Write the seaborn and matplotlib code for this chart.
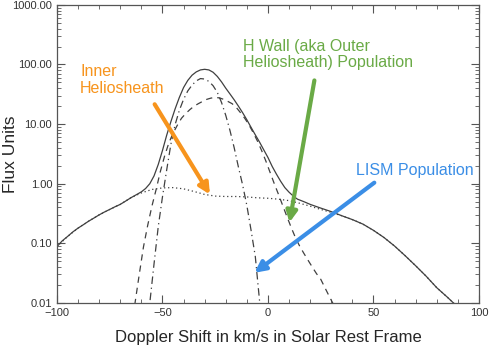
import numpy as np
import pandas as pd
import seaborn as sns
import matplotlib
matplotlib.use("Agg")
import matplotlib.pyplot as plt
from matplotlib.ticker import FormatStrFormatter, MultipleLocator, LogLocator

# total observed profile (solid)
total_v = [-100, -97.5, -95, -92.5, -90, -87.5, -85, -82.5, -80, -77.5, -75, -72.5,
           -70, -67.5, -65, -62.5, -60, -58, -56, -54, -52, -50, -48, -46, -44, -42,
           -40, -38, -36, -34, -32, -30, -28, -26, -24, -22, -20, -18, -16, -14, -12,
           -10, -8, -6, -4, -2, 0, 2, 4, 6, 8, 10, 12, 14, 17, 20, 25, 30, 35, 40,
           45, 50, 55, 60, 65, 70, 75, 80, 85, 90]
total_flux = [0.088, 0.11, 0.13, 0.155, 0.18, 0.205, 0.235, 0.265, 0.30, 0.335, 0.37, 0.41,
              0.45, 0.51, 0.58, 0.65, 0.73, 0.83, 1.0, 1.35, 2.1, 3.6, 6.5, 11, 18, 28,
              41, 54, 66, 75, 81, 83, 81, 74, 63, 51, 40, 32, 25.5, 20, 15.5,
              11.8, 8.8, 6.6, 5.0, 3.7, 2.75, 1.95, 1.45, 1.1, 0.86, 0.72, 0.62, 0.55, 0.5,
              0.45, 0.39, 0.34, 0.29, 0.25, 0.21, 0.165, 0.125, 0.09, 0.062, 0.042, 0.028,
              0.018, 0.0125, 0.0085]

# inner heliosheath (dotted)
ihs_v = [-100, -95, -90, -85, -80, -75, -70, -65, -60, -55, -50, -45, -40, -35, -30,
         -25, -20, -15, -10, -5, 0, 5, 10, 15, 20, 25, 30, 35, 40, 45, 50, 55, 60,
         65, 70, 75, 80, 85, 90]
ihs_flux = [0.088, 0.13, 0.18, 0.235, 0.30, 0.37, 0.45, 0.58, 0.70, 0.80, 0.85, 0.86,
            0.82, 0.74, 0.66, 0.62, 0.61, 0.61, 0.60, 0.58, 0.57, 0.55, 0.52, 0.47,
            0.42, 0.37, 0.33, 0.29, 0.25, 0.21, 0.165, 0.125, 0.09, 0.062, 0.042,
            0.028, 0.018, 0.0125, 0.0085]

# H wall / outer heliosheath (dashed)
hwall_v = [-64, -63, -61, -59, -57, -55, -53, -51, -49, -47, -45, -43, -41, -39, -37,
           -35, -33, -31, -29, -27, -25, -23, -21, -19, -17, -15, -13, -11, -9, -7,
           -5, -3, -1, 1, 3, 5, 7, 9, 11, 13, 15, 17, 19, 21, 23, 25, 27, 29, 31, 33]
hwall_flux = [0.006, 0.01, 0.03, 0.087, 0.2, 0.42, 0.8, 1.6, 2.9, 4.8, 7, 9.5, 12.5, 15,
              17.5, 20, 22, 24, 26, 27.3, 28, 27.5, 26, 24, 22, 19, 15.5, 12.5, 9.7, 7.2,
              5.2, 3.6, 2.4, 1.55, 1.0, 0.66, 0.43, 0.28, 0.185, 0.125, 0.09, 0.068,
              0.052, 0.04, 0.031, 0.025, 0.018, 0.013, 0.0095, 0.007]

# LISM (dash-dot)
lism_v = [-57, -56, -54, -52, -50, -48, -46, -44, -42, -40, -38, -36, -34, -32, -30,
          -28, -26, -24, -22, -20, -18, -16, -14, -12, -10, -8, -6, -4, -3]
lism_flux = [0.006, 0.01, 0.045, 0.19, 0.6, 1.7, 4.6, 9.8, 17, 26, 36, 45, 53, 58, 57,
             52, 44, 34, 23, 14, 7.8, 4.0, 1.9, 0.95, 0.43, 0.165, 0.06, 0.011, 0.006]

yticks = [0.01, 0.1, 1, 10, 100, 1000]

sns.set_style("ticks")
plt.rcParams["font.family"] = ["Liberation Sans", "DejaVu Sans"]

fig = plt.figure(figsize=(4.91, 3.47), dpi=100)
ax = fig.add_axes([0.116, 0.127, 0.8595, 0.859])

line_col = "#404040"
sns.lineplot(x=ihs_v, y=ihs_flux, ax=ax, color=line_col, lw=0.9, linestyle=(0, (1, 2.2)))
sns.lineplot(x=hwall_v, y=hwall_flux, ax=ax, color=line_col, lw=0.9, linestyle=(0, (5, 4)))
sns.lineplot(x=lism_v, y=lism_flux, ax=ax, color=line_col, lw=0.9,
             linestyle=(0, (6, 3, 1, 3)))
sns.lineplot(x=total_v, y=total_flux, ax=ax, color=line_col, lw=0.9)

ax.set_yscale("log")
ax.set_xlim(-100, 100)
ax.set_ylim(0.01, 1000)
ax.set_yticks(yticks)
ax.yaxis.set_major_formatter(FormatStrFormatter("%.2f"))
ax.yaxis.set_minor_locator(LogLocator(base=10, subs=np.arange(2, 10)))
ax.xaxis.set_major_locator(MultipleLocator(50))
ax.xaxis.set_minor_locator(MultipleLocator(10))
ax.tick_params(which="both", direction="in", top=True, right=True, colors="#555555",
               labelcolor="#333333", labelsize=8)
ax.tick_params(which="major", length=6, width=0.8)
ax.tick_params(which="minor", length=3, width=0.6)
for s in ax.spines.values():
    s.set_color("#555555")
    s.set_linewidth(0.9)

ax.set_xlabel("Doppler Shift in km/s in Solar Rest Frame", fontsize=12, labelpad=9)
ax.set_ylabel("Flux Units", fontsize=12.5)
ax.yaxis.set_label_coords(-0.093, 0.5)

orange = "#F7941D"
green = "#6AAA46"
blue = "#3B8EE6"

ax.text(-89, 55, "Inner\nHeliosheath", color=orange, fontsize=11.5, va="center", ha="left")
ax.text(-12, 147, "H Wall (aka Outer\nHeliosheath) Population", color=green,
        fontsize=11.5, va="center", ha="left", linespacing=1.15)
ax.text(41.8, 1.65, "LISM Population", color=blue, fontsize=11.5, va="center", ha="left")

arrow = dict(arrowstyle="-|>", lw=3, mutation_scale=16, shrinkA=0, shrinkB=0)
ax.annotate("", xy=(-27.5, 0.66), xytext=(-53.7, 21.5), arrowprops=dict(arrow, color=orange))
ax.annotate("", xy=(10.2, 0.224), xytext=(22, 54), arrowprops=dict(arrow, color=green))
ax.annotate("", xy=(-6.4, 0.032), xytext=(50.4, 1.04), arrowprops=dict(arrow, color=blue))

fig.savefig("out.png", dpi=100)
